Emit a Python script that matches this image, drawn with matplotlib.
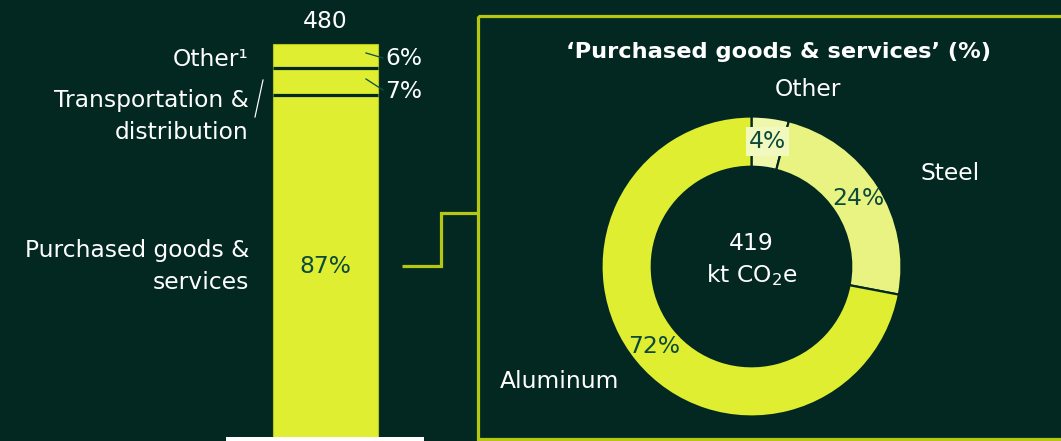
import matplotlib
matplotlib.use("Agg")
import matplotlib.pyplot as plt
from matplotlib.patches import Rectangle
import numpy as np

# ---- data ----
total_kt = 480
bar_labels = ["Purchased goods &\nservices", "Transportation &\ndistribution", "Other¹"]
bar_shares = [87, 7, 6]

donut_labels = ["Other", "Steel", "Aluminum"]
donut_shares = [4, 24, 72]
donut_total = 419
donut_title = "‘Purchased goods & services’ (%)"

# ---- style ----
BG = "#022821"
LIME = "#dfee30"
OLIVE = "#b6c713"
DARKTXT = "#0c4a3b"
donut_colors = ["#eff7ab", "#e9f382", LIME]
FS = 16.8

plt.rcParams["font.family"] = ["DejaVu Sans"]
plt.rcParams["mathtext.fontset"] = "dejavusans"
plt.rcParams["mathtext.default"] = "regular"

W, H = 1061, 441
fig = plt.figure(figsize=(W / 100, H / 100), dpi=100, facecolor=BG)

def px_axes(x0, y0, x1, y1, **kw):
    """Axes placed by pixel box (top-left origin)."""
    return fig.add_axes([x0 / W, 1 - y1 / H, (x1 - x0) / W, (y1 - y0) / H], **kw)

PT = 0.72  # points per pixel

# ---- stacked bar ----
bar_top, bar_bot = 44, 438
axb = px_axes(273, bar_top, 378, bar_bot)
axb.set_xlim(0, 1)
axb.set_ylim(0, 100)
axb.axis("off")
axb.patch.set_alpha(0)
bottom = 0
bounds = []
for share in bar_shares:
    axb.bar(0.5, share, width=1.0, bottom=bottom, color=LIME,
            edgecolor=OLIVE, linewidth=0.8, clip_on=False)
    bottom += share
    bounds.append(bottom)
# dark separators between segments
for b in bounds[:-1]:
    axb.plot([0, 1], [b, b], color=BG, lw=3.2 * PT, solid_capstyle="butt",
             clip_on=False, zorder=3)

axb.text(0.5, bar_shares[0] / 2, f"{bar_shares[0]}%", ha="center", va="center",
         fontsize=FS, color=DARKTXT)
axb.annotate(f"{total_kt}", (0.5, 100), xytext=(0, 23 * PT), textcoords="offset points",
             ha="center", va="center", fontsize=FS, color="white")

# ---- overlay in pixel coordinates ----
ov = fig.add_axes([0, 0, 1, 1], zorder=5)
ov.set_xlim(0, W)
ov.set_ylim(H, 0)
ov.axis("off")
ov.patch.set_alpha(0)

def bar_y(v):
    return bar_bot - (bar_bot - bar_top) * v / 100

# small-segment labels and leader lines
c1 = bar_shares[0]
c2 = c1 + bar_shares[1]
ov.text(385, bar_y(c2 + bar_shares[2] / 2) + 3, f"{bar_shares[2]}%", ha="left",
        va="center", fontsize=FS, color="white")
ov.text(385, bar_y(c1 + bar_shares[1] / 2) + 10, f"{bar_shares[1]}%", ha="left",
        va="center", fontsize=FS, color="white")
ov.plot([366, 383], [53, 58], color="#0f5247", lw=1.3 * PT)
ov.plot([366, 383], [79, 90], color="#0f5247", lw=1.3 * PT)

# left category labels
ov.text(249, 60, bar_labels[2], ha="right", va="center", fontsize=FS, color="white")
ov.text(249, 116.5, bar_labels[1], ha="right", va="center", fontsize=FS,
        color="white", linespacing=1.52)
ov.text(249, 266.5, bar_labels[0], ha="right", va="center", fontsize=FS,
        color="white", linespacing=1.52)
ov.plot([263, 255], [80, 117], color="white", lw=1.2 * PT)

# baseline strip under the bar
ov.add_patch(Rectangle((226, 437), 198, 10, facecolor="white", edgecolor="none"))

# connector from bar to the detail box
ov.plot([402, 441, 441, 477], [266, 266, 213, 213], color=OLIVE, lw=3.2 * PT,
        solid_joinstyle="miter", solid_capstyle="butt")

# detail box
ov.add_patch(Rectangle((477.5, 15.5), 620, 423.5, facecolor="none",
                       edgecolor=OLIVE, lw=3.2 * PT))
ov.text(778, 52, donut_title, ha="center", va="center", fontsize=16.2,
        fontweight="bold", color="white")

# ---- donut ----
cx, cy, R = 751.5, 266.5, 150
axp = px_axes(cx - R, cy - R, cx + R, cy + R)
axp.patch.set_alpha(0)
wedges, _ = axp.pie(donut_shares, colors=donut_colors, startangle=90,
                    counterclock=False, radius=1.0,
                    wedgeprops=dict(width=0.335, edgecolor=BG, linewidth=2.2 * PT))
axp.set_xlim(-1, 1)
axp.set_ylim(-1, 1)
axp.set_aspect("equal")
axp.axis("off")

start = 90.0
for i, (share, w) in enumerate(zip(donut_shares, wedges)):
    mid = np.deg2rad(start - share * 3.6 / 2)
    start -= share * 3.6
    x, y = 0.84 * np.cos(mid), 0.84 * np.sin(mid)
    box = None
    if i == 0:
        box = dict(boxstyle="square,pad=0.12", facecolor="#f2f9bf", edgecolor="none")
    axp.text(x, y, f"{share}%", ha="center", va="center", fontsize=FS,
             color=DARKTXT, bbox=box)

axp.text(0, 0.155, f"{donut_total}", ha="center", va="center", fontsize=FS, color="white")
axp.text(0, -0.06, r"kt CO$_2$e", ha="center", va="center", fontsize=FS, color="white")

# outer donut labels
ov.text(808, 90, donut_labels[0], ha="center", va="center", fontsize=FS, color="white")
ov.text(950, 173, donut_labels[1], ha="center", va="center", fontsize=FS, color="white")
ov.text(560, 382, donut_labels[2], ha="center", va="center", fontsize=FS, color="white")

fig.savefig("out.png", dpi=100, facecolor=BG)
